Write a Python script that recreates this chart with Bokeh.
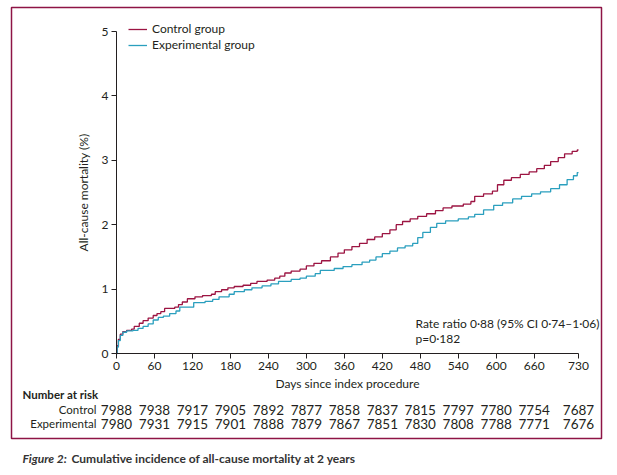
from bokeh.plotting import figure
from bokeh.models import Range1d, FixedTicker, Label, Legend, LegendItem, BoxAnnotation
from bokeh.core.properties import value
from bokeh.embed import file_html
from bokeh.resources import INLINE

# ---- data ----
ctrl_days = [0, 1, 3, 6, 10, 16, 24, 28, 36, 42, 50, 58, 64, 70, 76, 92, 98, 104, 112, 124,
             136, 150, 156, 166, 176, 186, 200, 212, 222, 238, 250, 258, 266, 276, 290, 300,
             312, 324, 338, 350, 360, 372, 384, 396, 408, 420, 432, 442, 452, 464, 476, 490,
             504, 516, 530, 548, 560, 566, 580, 594, 602, 612, 624, 638, 652, 664, 676, 686,
             698, 708, 720, 728, 730]
ctrl_vals = [0, 0.12, 0.22, 0.30, 0.34, 0.36, 0.38, 0.42, 0.47, 0.51, 0.55, 0.59, 0.62, 0.65,
             0.70, 0.72, 0.76, 0.80, 0.85, 0.88, 0.90, 0.92, 0.96, 0.99, 1.02, 1.04, 1.06,
             1.09, 1.12, 1.14, 1.17, 1.20, 1.25, 1.28, 1.31, 1.36, 1.40, 1.44, 1.50, 1.56,
             1.61, 1.66, 1.71, 1.77, 1.81, 1.86, 1.92, 2.00, 2.05, 2.09, 2.13, 2.17, 2.22,
             2.26, 2.29, 2.32, 2.36, 2.44, 2.48, 2.52, 2.62, 2.69, 2.73, 2.78, 2.82, 2.87,
             2.92, 2.98, 3.04, 3.10, 3.14, 3.16, 3.16]
exp_days = [0, 1, 3, 6, 10, 16, 26, 34, 42, 50, 58, 66, 74, 84, 94, 100, 118, 122, 140, 152,
            162, 178, 186, 202, 214, 230, 244, 256, 276, 290, 300, 314, 322, 344, 358, 372,
            388, 400, 410, 420, 432, 444, 456, 468, 476, 484, 496, 506, 520, 540, 556, 566,
            580, 596, 610, 626, 640, 656, 670, 686, 700, 712, 722, 728, 730]
exp_vals = [0, 0.10, 0.20, 0.28, 0.33, 0.35, 0.36, 0.39, 0.42, 0.46, 0.52, 0.56, 0.58, 0.62,
            0.66, 0.72, 0.72, 0.79, 0.81, 0.84, 0.88, 0.92, 0.96, 0.99, 1.02, 1.05, 1.08,
            1.12, 1.15, 1.17, 1.20, 1.24, 1.29, 1.32, 1.35, 1.38, 1.42, 1.45, 1.50, 1.55,
            1.59, 1.64, 1.67, 1.71, 1.80, 1.88, 1.96, 2.02, 2.06, 2.09, 2.12, 2.16, 2.23,
            2.30, 2.34, 2.40, 2.44, 2.48, 2.51, 2.56, 2.62, 2.70, 2.76, 2.81, 2.81]

x_ticks = [0, 60, 120, 180, 240, 300, 360, 420, 480, 540, 600, 660, 730]
y_ticks = [0, 1, 2, 3, 4, 5]
risk_days = [0, 60, 120, 180, 240, 300, 360, 420, 480, 540, 600, 660, 730]
risk_control = [7988, 7938, 7917, 7905, 7892, 7877, 7858, 7837, 7815, 7797, 7780, 7754, 7687]
risk_experimental = [7980, 7931, 7915, 7901, 7888, 7879, 7867, 7851, 7830, 7808, 7788, 7771, 7676]
risk_rows = ["Control", "Experimental"]

CTRL = "#9c1442"
EXP = "#2a9fbe"
BOX = "#8e1446"
TXT = "#231f20"
CAP = "#333333"
FONT = "Lato"

W, H = 610, 470
# axes position in canvas px
FL, FR, FT, FB = 116, 578, 31, 353

def px2x(px):
    return (px - FL) * 730.0 / (FR - FL)

def px2y(py):
    return (FB - py) * 5.0 / (FB - FT)

p = figure(width=W, height=H, output_backend="svg", toolbar_location=None,
           x_range=Range1d(px2x(0), px2x(W)), y_range=Range1d(px2y(H), px2y(0)),
           min_border=0)
p.outline_line_color = None
p.grid.visible = False
p.background_fill_color = "white"
p.border_fill_color = "white"

r1 = p.step(ctrl_days, ctrl_vals, mode="after", line_color=CTRL, line_width=1.3)
r2 = p.step(exp_days, exp_vals, mode="after", line_color=EXP, line_width=1.3)

for ax in (p.xaxis[0], p.yaxis[0]):
    ax.fixed_location = 0
    ax.axis_line_color = TXT
    ax.major_tick_line_color = TXT
    ax.major_tick_out = 5
    ax.major_tick_in = 0
    ax.minor_tick_line_color = None
    ax.major_label_text_font = FONT
    ax.major_label_text_font_size = "12px"
    ax.major_label_text_color = TXT
    ax.axis_label_text_font = FONT
    ax.axis_label_text_font_size = "12px"
    ax.axis_label_text_font_style = "normal"
    ax.axis_label_text_color = TXT

p.xaxis.bounds = (0, 730)
p.yaxis.bounds = (0, 5)
p.xaxis.ticker = FixedTicker(ticks=x_ticks)
p.yaxis.ticker = FixedTicker(ticks=y_ticks)
p.xaxis.major_label_standoff = 3
p.yaxis.major_label_standoff = 3
p.xaxis.axis_label = "Days since index procedure"
p.xaxis.axis_label_standoff = 3
p.yaxis.axis_label = "All-cause mortality (%)"
p.yaxis.axis_label_standoff = 8

legend = Legend(items=[LegendItem(label="Control group", renderers=[r1]),
                       LegendItem(label="Experimental group", renderers=[r2])],
                location=(128, H - 52), padding=0, margin=0, spacing=1,
                glyph_width=19, glyph_height=14, label_height=14, label_standoff=5,
                border_line_alpha=0, background_fill_alpha=0,
                label_text_font=FONT, label_text_font_size="12px", label_text_color=TXT)
p.add_layout(legend)

p.add_layout(Label(x=px2x(415), y=px2y(323), text="Rate ratio 0·88 (95% CI 0·74–1·06)",
                   text_font=FONT, text_font_size="12px", text_color=TXT,
                   text_baseline="middle", text_align="left"))
p.add_layout(Label(x=px2x(415), y=px2y(338), text="p=0·182",
                   text_font=FONT, text_font_size="12px", text_color=TXT,
                   text_baseline="middle", text_align="left"))

# number at risk table
p.add_layout(Label(x=px2x(22), y=px2y(394), text="Number at risk",
                   text_font=FONT, text_font_size="11.5px", text_font_style="bold",
                   text_color=TXT, text_baseline="middle", text_align="left"))
row_y = [px2y(409), px2y(423)]
p.text(x=[px2x(96)] * 2, y=row_y, text=risk_rows, text_font=value(FONT),
       text_font_size="11.5px", text_color=TXT, text_baseline="middle", text_align="right")
for row, ry in zip((risk_control, risk_experimental), row_y):
    p.text(x=risk_days, y=[ry] * len(risk_days), text=[str(n) for n in row],
           text_font=value(FONT), text_font_size="13.5px", text_color=TXT,
           text_baseline="middle", text_align="center")

# caption
p.add_layout(Label(x=px2x(22), y=px2y(458), text="Figure 2:", text_font=FONT,
                   text_font_size="12px", text_font_style="bold italic", text_color=CAP,
                   text_baseline="middle", text_align="left"))
p.add_layout(Label(x=px2x(71), y=px2y(458),
                   text="Cumulative incidence of all-cause mortality at 2 years",
                   text_font=FONT, text_font_size="12px", text_font_style="bold",
                   text_color=CAP, text_baseline="middle", text_align="left"))

# surrounding box
p.add_layout(BoxAnnotation(left=px2x(11), right=px2x(601), top=px2y(7), bottom=px2y(438),
                           fill_alpha=0, line_color=BOX, line_alpha=1.0, line_width=1.5))

open("out.html", "w").write(file_html(p, INLINE))
